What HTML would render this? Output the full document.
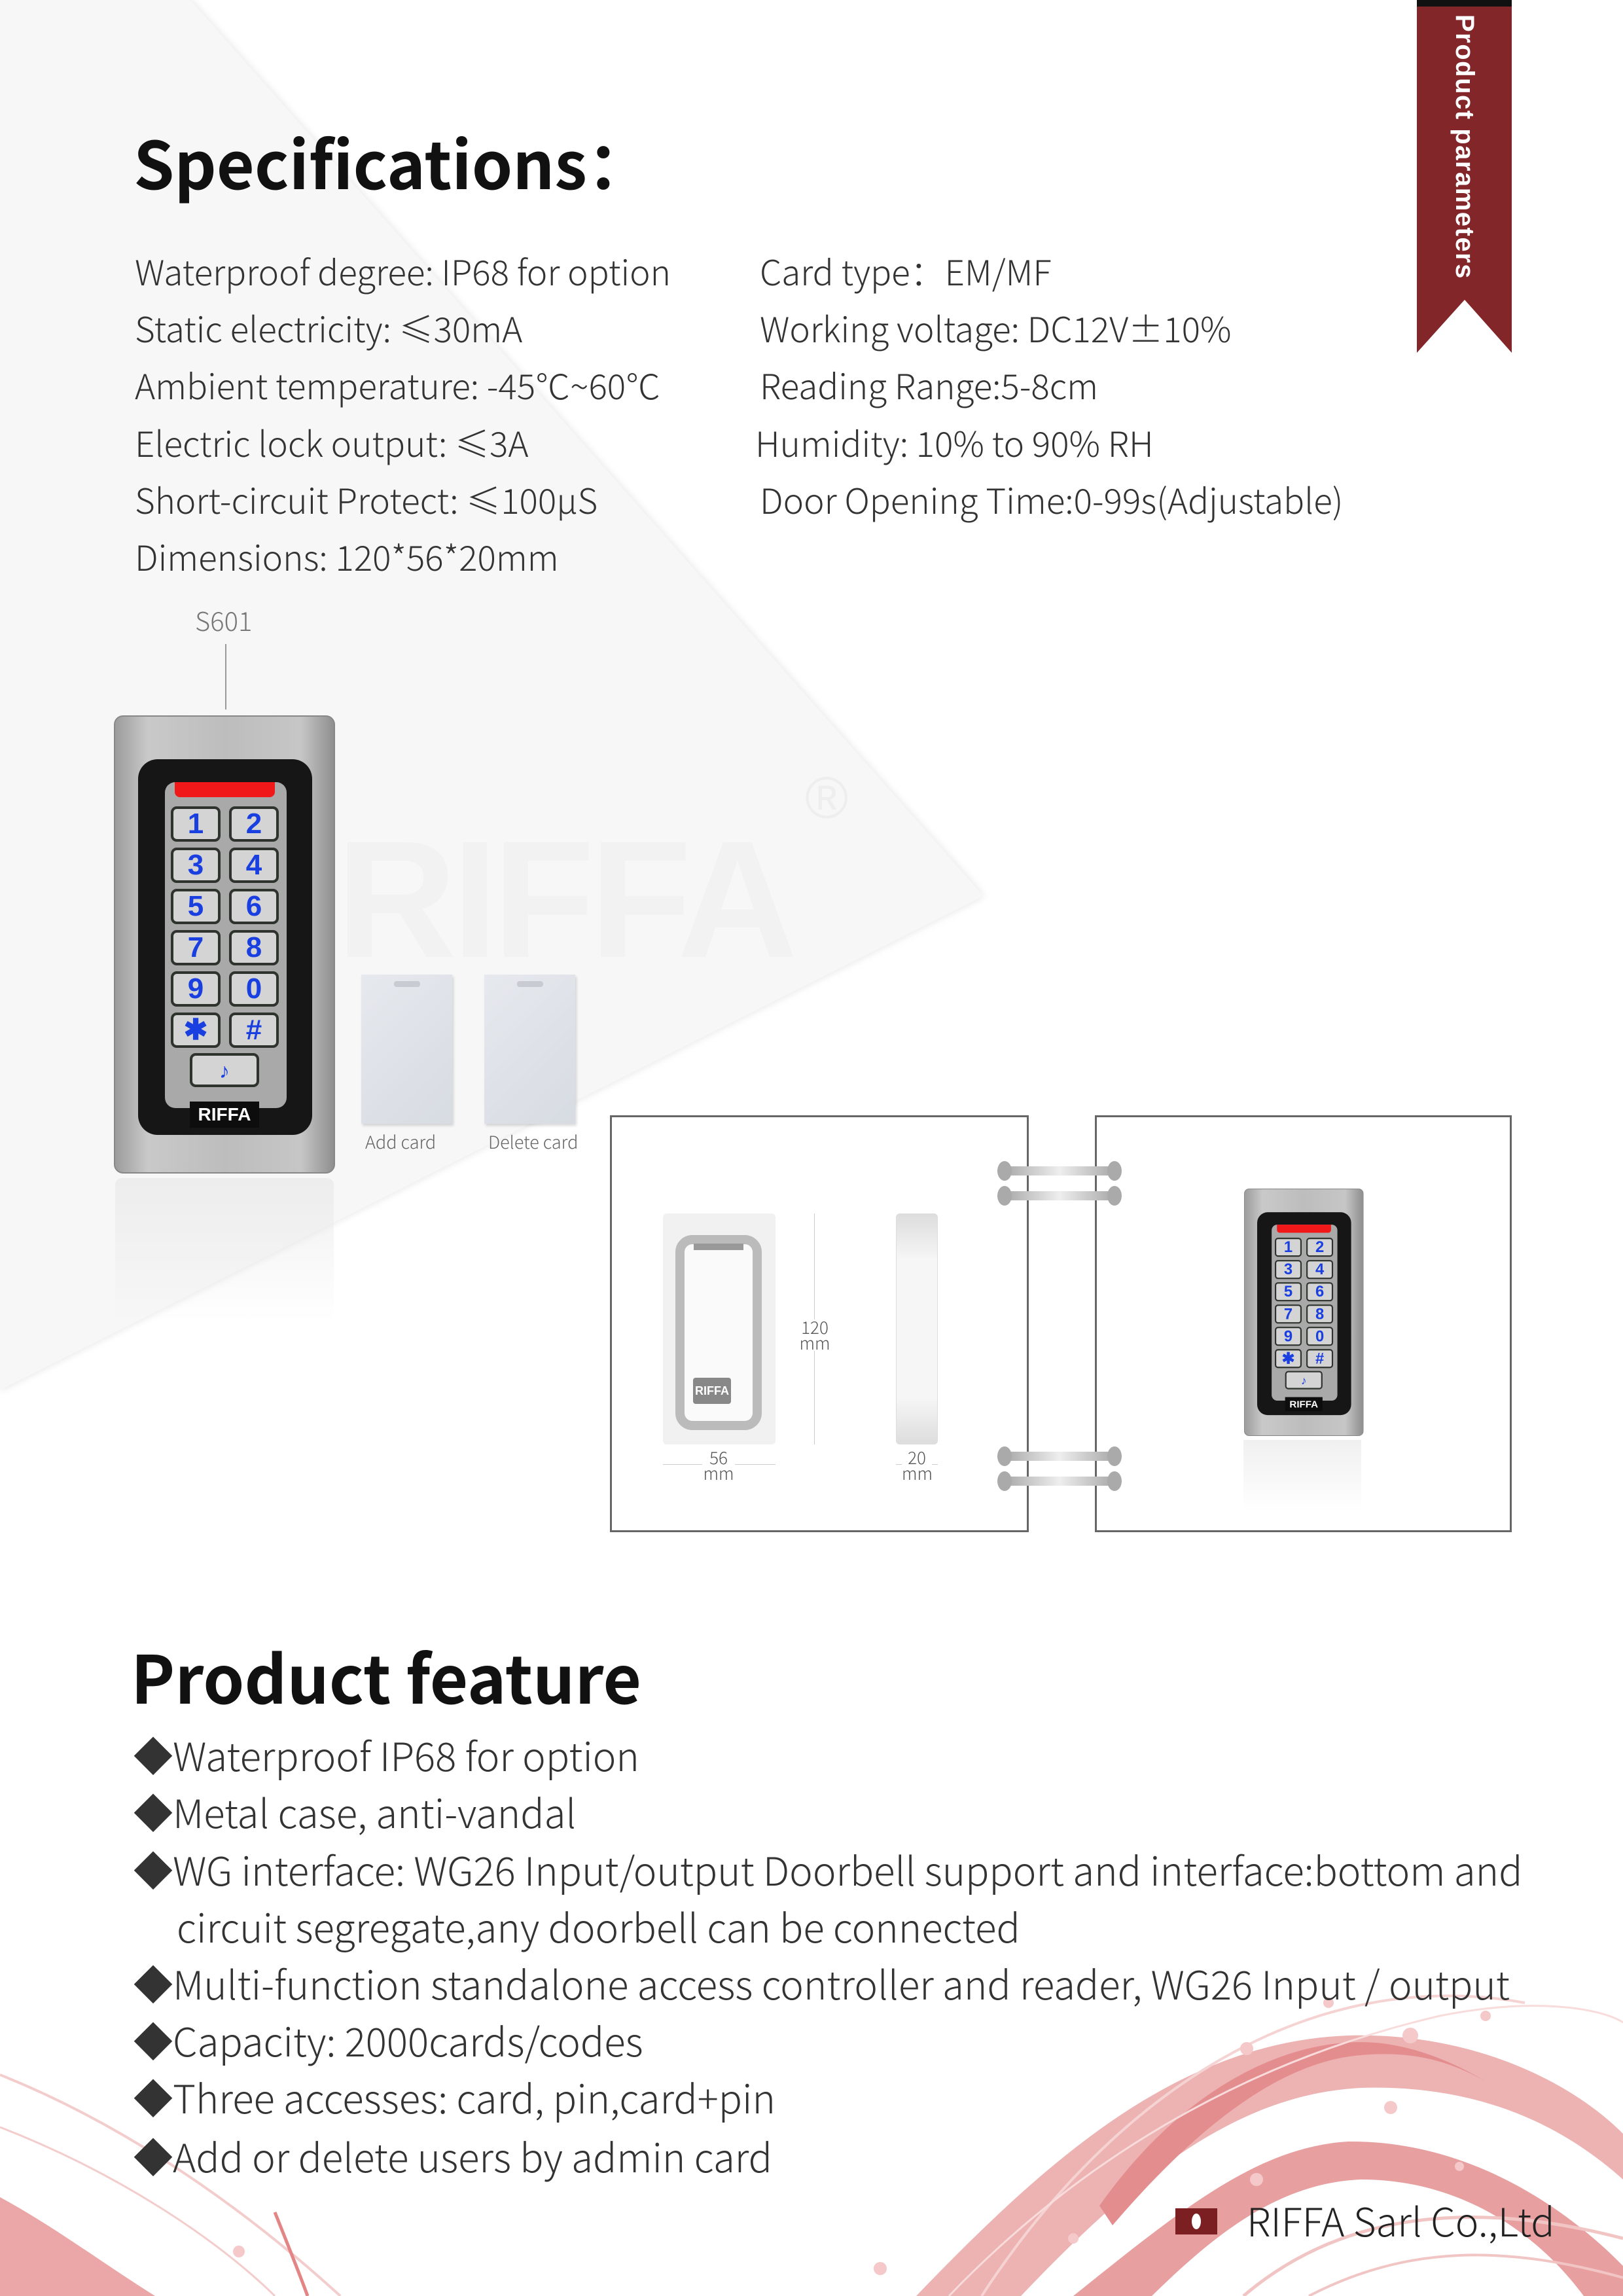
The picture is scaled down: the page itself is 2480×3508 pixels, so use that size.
<!DOCTYPE html>
<html><head><meta charset="utf-8">
<style>
*{margin:0;padding:0;box-sizing:border-box}
body{width:2480px;height:3508px;position:relative;overflow:hidden;background:#fff;font-family:"Noto Sans CJK SC","Liberation Sans",sans-serif;color:#333}
.a{position:absolute;white-space:nowrap}
.spec{font-size:53px;font-weight:300;color:#333;line-height:1}
.feat{font-size:60px;font-weight:300;color:#333;line-height:1}
.dev{position:absolute;width:338px;height:700px;transform-origin:0 0}
.dev .body{position:absolute;left:0;top:0;width:338px;height:700px;border-radius:14px;background:linear-gradient(90deg,#9c9c9c,#c9c9c9 15%,#bdbdbd 50%,#c6c6c6 85%,#8f8f8f);border:2px solid #888}
.dev .frame{position:absolute;left:37px;top:67px;width:266px;height:574px;border-radius:30px;background:#161616}
.dev .panel{position:absolute;left:78px;top:102px;width:186px;height:498px;border-radius:16px;background:#a9a9a9}
.dev .red{position:absolute;left:93px;top:102px;width:153px;height:23px;background:#f01818;border-radius:0 0 8px 8px}
.dev .k{position:absolute;width:76px;height:54px;border-radius:9px;background:#d4d4d4;border:4px solid #2e332e;color:#1a3fe0;font:bold 44px/46px "Liberation Sans",sans-serif;text-align:center}
.dev .logo{position:absolute;left:116px;top:590px;width:106px;height:40px;background:#0d0d0d;color:#fff;font:bold 28px/40px "Liberation Sans",sans-serif;text-align:center}
.card{position:absolute;width:139px;height:228px;background:linear-gradient(135deg,#e6e9ee,#d7dbe2);box-shadow:2px 3px 4px rgba(0,0,0,.15)}
.card:after{content:"";position:absolute;left:50px;top:10px;width:40px;height:9px;border-radius:4px;background:#c8ccd2}
.box{position:absolute;border:3px solid #666;background:#fff}
.pin{position:absolute;height:14px;background:linear-gradient(90deg,#aaa,#eee 50%,#aaa)}
.dot{position:absolute;width:22px;height:30px;border-radius:50%;background:#aaa}
.dim{position:absolute;font-size:26px;font-weight:300;color:#555;text-align:center;line-height:24px}
</style></head><body>

<svg class="a" style="left:0;top:0" width="2480" height="3508">
<defs>
<filter id="sh"><feGaussianBlur stdDeviation="6"/></filter>
</defs>
<polygon points="0,0 291,0 1503,1369 0,2124" fill="#e2e2e2" filter="url(#sh)"/>
<polygon points="0,0 291,0 1503,1369 0,2124" fill="#f7f7f7"/>
<text x="514" y="1462" font-family="Liberation Sans,sans-serif" font-weight="bold" font-size="255" fill="#f2f2f2" textLength="705">RIFFA</text>
<text x="1230" y="1250" font-family="Liberation Sans,sans-serif" font-size="90" fill="#eeeeee">®</text>
<g opacity="0.85">
<path d="M1400,3508 C1600,3300 1800,3120 2060,3110 C2250,3105 2400,3180 2480,3260 L2480,3330 C2380,3240 2250,3185 2080,3190 C1880,3200 1720,3340 1560,3508 Z" fill="#eba5a5"/>
<path d="M1640,3508 C1800,3380 1920,3280 2060,3272 C2250,3270 2400,3380 2480,3462 L2480,3508 L2420,3508 C2340,3400 2220,3330 2080,3330 C1950,3335 1850,3420 1760,3508 Z" fill="#e48f90"/>
<path d="M1680,3370 C1800,3200 1950,3120 2080,3120 C2150,3120 2220,3150 2270,3180 C2200,3140 2140,3135 2080,3140 C1950,3150 1820,3260 1700,3400 Z" fill="#e07a7c"/>
<path d="M0,3357 C80,3400 160,3460 237,3508 L0,3508 Z" fill="#e89898"/>
<path d="M0,3170 C200,3250 380,3380 520,3508" stroke="#f2c4c4" stroke-width="4" fill="none"/>
<path d="M0,3250 C180,3320 330,3420 420,3508" stroke="#f2c4c4" stroke-width="3" fill="none"/>
<path d="M420,3380 C440,3430 460,3480 470,3508" stroke="#e07070" stroke-width="5" fill="none"/>
<path d="M1500,3508 C1700,3200 2000,3000 2330,3060" stroke="#f5cccc" stroke-width="4" fill="none"/>
<path d="M1900,3508 C2050,3380 2250,3360 2480,3420" stroke="#f0bcbc" stroke-width="5" fill="none"/>
<path d="M2000,3508 C2150,3430 2300,3430 2480,3480" stroke="#f0bcbc" stroke-width="4" fill="none"/>
<path d="M1450,3508 C1650,3300 1900,3150 2200,3080 C2350,3050 2450,3070 2480,3090" stroke="#f7d5d5" stroke-width="3" fill="none"/>
</g>
<g fill="#f5c9c9">
<circle cx="1905" cy="3130" r="10"/><circle cx="2155" cy="3110" r="12"/><circle cx="2125" cy="3220" r="10"/><circle cx="1920" cy="3330" r="10"/><circle cx="2230" cy="3310" r="7"/><circle cx="1345" cy="3466" r="10"/><circle cx="2030" cy="3060" r="8"/><circle cx="2270" cy="3080" r="8"/><circle cx="1640" cy="3420" r="8"/><circle cx="365" cy="3440" r="9"/>
</g>
<polygon points="2165,0 2310,0 2310,539 2238,458 2165,539" fill="#83262a"/>
<rect x="2165" y="0" width="145" height="10" fill="#111"/>
</svg>

<div class="a" style="top:22px;transform:rotate(90deg);transform-origin:0 0;color:#fff;font:bold 40px/1 'Liberation Sans',sans-serif;letter-spacing:1.5px;left:2258px">Product parameters</div>

<div class="a" style="left:204px;top:196px;font-size:100px;font-weight:bold;color:#111;line-height:1">Specifications：</div>

<div class="a spec" style="left:206px;top:388px">Waterproof degree: IP68 for option</div>
<div class="a spec" style="left:206px;top:475px">Static electricity: ≤30mA</div>
<div class="a spec" style="left:206px;top:562px">Ambient temperature: -45℃~60℃</div>
<div class="a spec" style="left:206px;top:650px">Electric lock output: ≤3A</div>
<div class="a spec" style="left:206px;top:737px">Short-circuit Protect: ≤100μS</div>
<div class="a spec" style="left:206px;top:824px">Dimensions: 120*56*20mm</div>
<div class="a spec" style="left:1161px;top:388px">Card type：EM/MF</div>
<div class="a spec" style="left:1161px;top:475px">Working voltage: DC12V±10%</div>
<div class="a spec" style="left:1161px;top:562px">Reading Range:5-8cm</div>
<div class="a spec" style="left:1154px;top:650px">Humidity: 10% to 90% RH</div>
<div class="a spec" style="left:1161px;top:737px">Door Opening Time:0-99s(Adjustable)</div>

<div class="a" style="left:298px;top:918px;font-size:40px;font-weight:300;color:#777">S601</div>
<div class="a" style="left:344px;top:984px;width:2px;height:100px;background:#999"></div>

<div class="dev" style="left:174px;top:1093px">
<div class="body"></div><div class="frame"></div><div class="panel"></div><div class="red"></div>
<div class="k" style="left:87px;top:139px">1</div><div class="k" style="left:176px;top:139px">2</div>
<div class="k" style="left:87px;top:202px">3</div><div class="k" style="left:176px;top:202px">4</div>
<div class="k" style="left:87px;top:265px">5</div><div class="k" style="left:176px;top:265px">6</div>
<div class="k" style="left:87px;top:328px">7</div><div class="k" style="left:176px;top:328px">8</div>
<div class="k" style="left:87px;top:391px">9</div><div class="k" style="left:176px;top:391px">0</div>
<div class="k" style="left:87px;top:454px">✱</div><div class="k" style="left:176px;top:454px">#</div>
<div class="k" style="left:116px;top:516px;width:106px;height:52px;font-size:32px">♪</div>
<div class="logo">RIFFA</div>
</div>
<div class="a" style="left:176px;top:1800px;width:334px;height:220px;background:linear-gradient(#e6e6e6,rgba(247,247,247,0));opacity:.6;border-radius:10px"></div>

<div class="card" style="left:552px;top:1489px"></div>
<div class="card" style="left:740px;top:1489px"></div>
<div class="a" style="left:558px;top:1724px;font-size:27px;font-weight:300;color:#666">Add card</div>
<div class="a" style="left:746px;top:1724px;font-size:27px;font-weight:300;color:#666">Delete card</div>

<div class="box" style="left:932px;top:1704px;width:640px;height:637px"></div>
<div class="box" style="left:1673px;top:1704px;width:637px;height:637px"></div>

<div class="pin" style="left:1537px;top:1782px;width:164px"></div><div class="dot" style="left:1524px;top:1774px"></div><div class="dot" style="left:1692px;top:1774px"></div>
<div class="pin" style="left:1537px;top:1820px;width:164px"></div><div class="dot" style="left:1524px;top:1812px"></div><div class="dot" style="left:1692px;top:1812px"></div>
<div class="pin" style="left:1537px;top:2218px;width:164px"></div><div class="dot" style="left:1524px;top:2210px"></div><div class="dot" style="left:1692px;top:2210px"></div>
<div class="pin" style="left:1537px;top:2256px;width:164px"></div><div class="dot" style="left:1524px;top:2248px"></div><div class="dot" style="left:1692px;top:2248px"></div>

<div class="a" style="left:1013px;top:1854px;width:172px;height:353px;background:#f1f1f1;border-radius:6px"></div>
<div class="a" style="left:1032px;top:1887px;width:132px;height:298px;border:14px solid #bbb;border-radius:26px;background:#fafafa"></div>
<div class="a" style="left:1060px;top:1900px;width:76px;height:10px;background:#999"></div>
<div class="a" style="left:1059px;top:2105px;width:58px;height:40px;background:#888;color:#fff;font:bold 18px/40px 'Liberation Sans',sans-serif;text-align:center;border-radius:4px">RIFFA</div>
<div class="a" style="left:1369px;top:1854px;width:64px;height:353px;background:linear-gradient(#ddd,#f6f6f6 20%,#f6f6f6 80%,#ddd);border:1px solid #ddd;border-radius:6px"></div>
<div class="a" style="left:1244px;top:1854px;width:1px;height:353px;background:#ccc"></div>
<div class="dim" style="left:1220px;top:2016px;width:50px;background:#fff">120<br>mm</div>
<div class="a" style="left:1013px;top:2237px;width:172px;height:1px;background:#ccc"></div>
<div class="dim" style="left:1073px;top:2215px;width:50px;background:#fff">56<br>mm</div>
<div class="a" style="left:1369px;top:2237px;width:64px;height:1px;background:#ccc"></div>
<div class="dim" style="left:1378px;top:2215px;width:46px;background:#fff">20<br>mm</div>

<div class="dev" style="left:1901px;top:1816px;transform:scale(0.54)">
<div class="body"></div><div class="frame"></div><div class="panel"></div><div class="red"></div>
<div class="k" style="left:87px;top:139px">1</div><div class="k" style="left:176px;top:139px">2</div>
<div class="k" style="left:87px;top:202px">3</div><div class="k" style="left:176px;top:202px">4</div>
<div class="k" style="left:87px;top:265px">5</div><div class="k" style="left:176px;top:265px">6</div>
<div class="k" style="left:87px;top:328px">7</div><div class="k" style="left:176px;top:328px">8</div>
<div class="k" style="left:87px;top:391px">9</div><div class="k" style="left:176px;top:391px">0</div>
<div class="k" style="left:87px;top:454px">✱</div><div class="k" style="left:176px;top:454px">#</div>
<div class="k" style="left:116px;top:516px;width:106px;height:52px;font-size:32px">♪</div>
<div class="logo">RIFFA</div>
</div>
<div class="a" style="left:1900px;top:2200px;width:180px;height:110px;background:linear-gradient(#f0f0f0,rgba(255,255,255,0))"></div>

<div class="a" style="left:200px;top:2510px;font-size:101px;font-weight:bold;color:#111;line-height:1">Product feature</div>
<div class="a feat" style="left:204px;top:2651px">◆Waterproof IP68 for option</div>
<div class="a feat" style="left:204px;top:2738px">◆Metal case, anti-vandal</div>
<div class="a feat" style="left:204px;top:2826px">◆WG interface: WG26 Input/output Doorbell support and interface:bottom and</div>
<div class="a feat" style="left:270px;top:2913px">circuit segregate,any doorbell can be connected</div>
<div class="a feat" style="left:204px;top:3000px">◆Multi-function standalone access controller and reader, WG26 Input / output</div>
<div class="a feat" style="left:204px;top:3087px">◆Capacity: 2000cards/codes</div>
<div class="a feat" style="left:204px;top:3174px">◆Three accesses: card, pin,card+pin</div>
<div class="a feat" style="left:204px;top:3264px">◆Add or delete users by admin card</div>

<div class="a" style="left:1796px;top:3374px;width:64px;height:40px;background:#7c1f22"></div>
<div class="a" style="left:1821px;top:3382px;width:14px;height:24px;border-radius:50%;background:#fff"></div>
<div class="a" style="left:1905px;top:3362px;font-size:60px;font-weight:300;color:#222;line-height:1">RIFFA Sarl Co.,Ltd</div>
</body></html>
